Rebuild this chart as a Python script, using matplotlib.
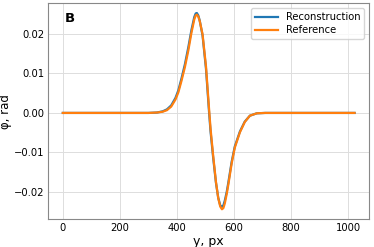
#!/usr/bin/env python3

import matplotlib

matplotlib.use("Agg")
import matplotlib.pyplot as plt

# pixel positions along y
y_px = [0, 300, 330, 350, 365, 380, 395, 405, 416, 428, 440, 451, 461, 466, 470,
        475, 480, 490, 502, 513, 518, 527, 537, 545, 552, 558, 563, 568, 575,
        580, 592, 603, 621, 638, 656, 680, 710, 1023]

# phase values
phi_rec = [0, 0, 0.0001, 0.0004, 0.0009, 0.0019, 0.0038, 0.0057, 0.0087, 0.0123,
           0.0166, 0.0210, 0.0243, 0.0252, 0.0253, 0.0247, 0.0234, 0.0196, 0.0112,
           0.0000, -0.0047, -0.0112, -0.0177, -0.0215, -0.0234, -0.0238, -0.0234,
           -0.0222, -0.0199, -0.0178, -0.0124, -0.0085, -0.0047, -0.0022, -0.0007,
           -0.0001, 0, 0]
phi_ref = [0, 0, 0.0001, 0.0003, 0.0007, 0.0016, 0.0034, 0.0052, 0.0081, 0.0116,
           0.0158, 0.0203, 0.0237, 0.0247, 0.0249, 0.0244, 0.0233, 0.0199, 0.0118,
           0.0008, -0.0040, -0.0107, -0.0175, -0.0216, -0.0237, -0.0244, -0.0241,
           -0.0229, -0.0204, -0.0183, -0.0128, -0.0088, -0.0049, -0.0023, -0.0007,
           -0.0001, 0, 0]

if __name__ == "__main__":
    fig = plt.figure(figsize=(3.74, 2.47), dpi=100)
    ax = fig.add_axes([0.129, 0.113, 0.858, 0.874])

    ax.plot(y_px, phi_rec, color="#1f77b4", lw=1.6, label="Reconstruction")
    ax.plot(y_px, phi_ref, color="#ff7f0e", lw=1.6, label="Reference")

    ax.grid(True, color="#dddddd", linewidth=0.7)
    ax.set_axisbelow(True)
    for s in ax.spines.values():
        s.set_color("#888888")
        s.set_linewidth(0.8)
    ax.tick_params(length=0, labelsize=7.2, pad=3)
    ax.set_xticks([0, 200, 400, 600, 800, 1000])
    ax.set_yticks([-0.02, -0.01, 0.0, 0.01, 0.02])

    ax.set_xlabel("y, px", fontsize=9, labelpad=1)
    ax.set_ylabel("φ, rad", fontsize=8.5)
    ax.yaxis.set_label_coords(-0.112, 0.5)
    ax.text(0.05, 0.915, "B", transform=ax.transAxes, fontsize=9.5, fontweight="bold")

    ax.legend(loc="upper right", fontsize=7.2, handlelength=2.3, borderpad=0.4,
              labelspacing=0.3, framealpha=0.8, edgecolor="#cccccc")

    fig.savefig("out.png", dpi=100)
